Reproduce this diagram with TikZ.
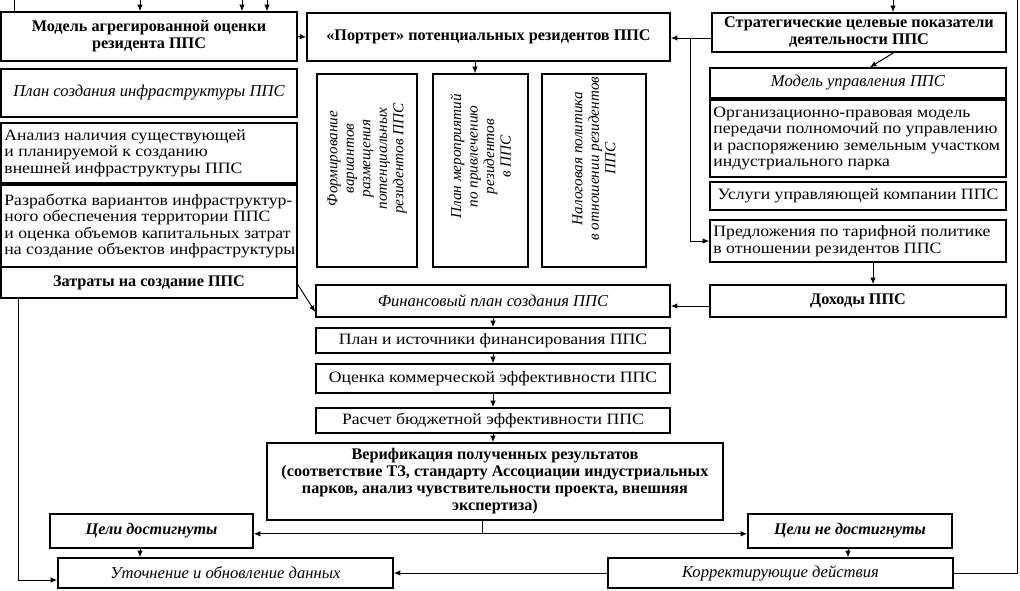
\documentclass[tikz,border=0pt]{standalone}
\usepackage{fontspec}
\setmainfont{Liberation Serif}
\newfontfamily\regf{Liberation Serif}[FakeStretch=1.12]
\usetikzlibrary{arrows.meta}
\newcommand\bx[7]{\node[box,#6,minimum width={#4-#2},minimum height={#5-#3}] (#1) at ({(#2+#4)/2},{(#3+#5)/2}) {#7};}
\newcommand\bxl[6]{\node[box,minimum width={#4-#2},minimum height={#5-#3}] (#1) at ({(#2+#4)/2},{(#3+#5)/2}) {};
  \node[rg, align=left, anchor=west, inner sep=0pt] (#1t) at ([xshift=4pt]#1.west) {#6};}
\begin{document}
\begin{tikzpicture}[x=1pt,y=-1pt,
  box/.style={draw, line width=1.6pt, inner sep=0pt, align=center},
  arr/.style={-{Latex[length=6.5pt,width=5.5pt]}, line width=1pt},
  ln/.style={line width=1pt},
  bt/.style={font=\fontsize{16.2}{17}\selectfont\bfseries},
  it/.style={font=\fontsize{16.6}{17.5}\selectfont\itshape},
  bit/.style={font=\fontsize{16.2}{17}\selectfont\bfseries\itshape},
  rg/.style={font=\regf\fontsize{15.8}{16.6}\selectfont},
  vt/.style={font=\fontsize{15.2}{16.5}\selectfont\itshape, align=center, rotate=90, inner sep=0pt}
]
\useasboundingbox (0,0) rectangle (1020,590);
% left column
\bx{L1}{1}{12}{297}{61}{bt}{Модель агрегированной оценки\\резидента ППС}
\bx{L2}{1}{69}{297}{117}{it}{План создания инфраструктуры ППС}
\bxl{L3}{1}{123}{297}{183}{Анализ наличия существующей\\и планируемой к созданию\\внешней инфраструктуры ППС}
\bxl{L4}{1}{185}{297}{267}{Разработка вариантов инфраструктур-\\ного обеспечения территории ППС\\и оценка объемов капитальных затрат\\на создание объектов инфраструктуры}
\bx{L5}{1}{267}{297}{298}{bt}{Затраты на создание ППС}
% middle column
\bx{M1}{307}{13}{670}{61}{bt}{«Портрет» потенциальных резидентов ППС}
\bx{V1}{317}{74}{417}{267}{}{}
\bx{V2}{433}{74}{528}{267}{}{}
\bx{V3}{542}{74}{646}{267}{}{}
\node[vt] (V1t) at ([yshift=12pt]V1) {Формирование\\вариантов\\размещения\\потенциальных\\резидентов ППС};
\node[vt] (V2t) at ([yshift=14pt]V2) {План мероприятий\\по привлечению\\резидентов\\в ППС};
\node[vt] (V3t) at ([yshift=12pt]V3) {Налоговая политика\\в отношении резидентов\\ППС};
\bx{M2}{316}{285}{670}{317}{it}{Финансовый план создания ППС}
\bx{M3}{316}{328}{670}{353}{rg}{План и источники финансирования ППС}
\bx{M4}{316}{364}{670}{393}{rg}{Оценка коммерческой эффективности ППС}
\bx{M5}{316}{408}{670}{433}{rg}{Расчет бюджетной эффективности ППС}
\bx{M6}{267}{443}{723}{520}{bt}{Верификация полученных результатов\\(соответствие ТЗ, стандарту Ассоциации индустриальных\\парков, анализ чувствительности проекта, внешняя\\экспертиза)}
\bx{G1}{50}{514}{253}{548}{bit}{Цели достигнуты}
\bx{G2}{748}{514}{952}{548}{bit}{Цели не достигнуты}
\bx{B1}{58}{558}{393}{588}{it}{Уточнение и обновление данных}
\bx{B2}{608}{558}{953}{588}{it}{Корректирующие действия}
% right column
\bx{R1}{712}{13}{1006}{52}{bt}{Стратегические целевые показатели\\деятельности ППС}
\bx{R2}{710}{68}{1006}{98}{it}{Модель управления ППС}
\bxl{R3}{710}{100}{1006}{177}{Организационно-правовая модель\\передачи полномочий по управлению\\и распоряжению земельным участком\\индустриального парка}
\bx{R4}{710}{182}{1006}{210}{rg}{Услуги управляющей компании ППС}
\bxl{R5}{710}{220}{1006}{262}{Предложения по тарифной политике\\в отношении резидентов ППС}
\bx{R6}{710}{285}{1006}{317}{bt}{Доходы ППС}
% top incoming lines
\coordinate (t0) at (14,0);
\coordinate (t1) at (140,0);
\coordinate (t2) at (242,0);
\coordinate (t3) at (267,0);
\coordinate (t4) at (893,0);
\coordinate (rc) at (1017,0);
\draw[ln] (t0) -- (t0 |- L1.north);
\draw[arr] (t1) -- (t1 |- L1.north);
\draw[arr] (t2) -- (t2 |- L1.north);
\draw[arr] (t3) -- (t3 |- L1.north);
\draw[arr] (t4) -- (t4 |- R1.north);
% connectors
\draw[arr] (L1.east) -- (M1.west);
\coordinate (j1) at (690,38);
\draw[ln] (R1.west |- j1) -- (j1);
\draw[arr] (j1) -- (M1.east |- j1);
\draw[arr] (j1) |- (R5.west);
\draw[arr] ([xshift=34.5pt]R1.south) -- ([xshift=12pt]R2.north);
\draw[arr] ([xshift=-13.5pt]M1.south) -- ([xshift=-13.5pt]M1.south |- V2.north);
\draw[arr] ([yshift=-2pt]L5.east) -- ([yshift=-11pt]M2.west);
\draw[arr] ([yshift=-5pt]R6.west) -- ([yshift=-5pt]R6.west -| M2.east);
\draw[arr] ([xshift=15pt]R5.south) -- ([xshift=15pt]R5.south |- R6.north);
\draw[arr] (M2.south) -- (M3.north);
\draw[arr] (M3.south) -- (M4.north);
\draw[arr] (M4.south) -- (M5.north);
\draw[arr] (M5.south) -- (M5.south |- M6.north);
\coordinate (vj) at ([xshift=-13pt,yshift=-13pt]M6.south);
\draw[ln] ([xshift=-13pt]M6.south) -- (vj);
\draw[arr] (vj) -- (vj -| G1.east);
\draw[arr] (vj) -- (vj -| G2.west);
\draw[arr] ([xshift=-11.5pt]G1.south) -- ([xshift=-11.5pt]G1.south |- B1.north);
\draw[arr] ([xshift=-2pt]G2.south) -- ([xshift=-2pt]G2.south |- B2.north);
\draw[arr] (B2.west) -- (B1.east);
\draw[ln] (B2.east) -| (rc);
\draw[arr] ([xshift=18pt]L5.south west) |- ([yshift=-7pt]B1.west);
\end{tikzpicture}
\end{document}
